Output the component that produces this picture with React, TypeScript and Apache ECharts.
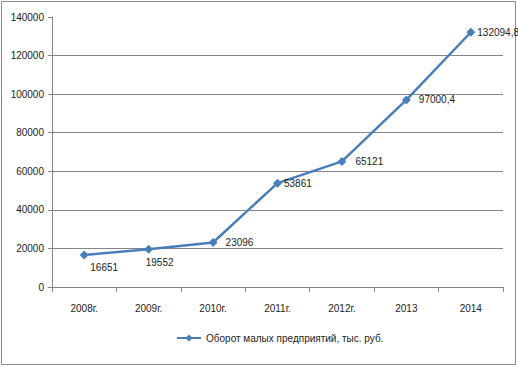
import React, { useEffect, useRef } from "react";
import * as echarts from "echarts";

const categories = ["2008г.", "2009г.", "2010г.", "2011г.", "2012г.", "2013", "2014"];
const values = [16651, 19552, 23096, 53861, 65121, 97000.4, 132094.8];
const labelTexts = ["16651", "19552", "23096", "53861", "65121", "97000,4", "132094,8"];
const seriesName = "Оборот малых предприятий, тыс. руб.";
const yTicks = { min: 0, max: 140000, interval: 20000 };

export default function App() {
  const ref = useRef<HTMLDivElement>(null);
  useEffect(() => {
    if (!ref.current) return;
    const chart = echarts.init(ref.current, null, { renderer: "svg" });
    const font = "Liberation Sans";
    const labelOverrides: any[] = [
      { position: "bottom", offset: [20, -2] },
      { position: "bottom", offset: [11, -1] },
      { position: "right", distance: 8 },
      { position: "right", distance: 2 },
      { position: "right", distance: 9 },
      { position: "right", distance: 8 },
      { position: "right", distance: 2 },
    ];
    const data = values.map((v, i) => ({
      value: v,
      label: { ...labelOverrides[i], formatter: labelTexts[i] },
    }));
    chart.setOption({
      animation: false,
      backgroundColor: "#fff",
      graphic: [
        {
          type: "rect",
          shape: { x: 1.5, y: 1.5, width: 514, height: 363 },
          style: { fill: "none", stroke: "#8a8a8a", lineWidth: 1 },
        },
      ],
      grid: { left: 52, right: 15, top: 17, bottom: 80 },
      legend: {
        left: 171,
        top: 328,
        itemWidth: 24,
        itemHeight: 9,
        textStyle: { fontFamily: font, fontSize: 10, color: "#222" },
        data: [seriesName],
      },
      xAxis: {
        type: "category",
        data: categories,
        boundaryGap: true,
        axisLine: { lineStyle: { color: "#868686", width: 1 } },
        axisTick: { show: true, length: 5, lineStyle: { color: "#868686" } },
        axisLabel: { fontFamily: font, fontSize: 10, color: "#222", margin: 16 },
      },
      yAxis: {
        type: "value",
        min: yTicks.min,
        max: yTicks.max,
        interval: yTicks.interval,
        axisLine: { show: true, lineStyle: { color: "#868686", width: 1 } },
        axisTick: { show: true, length: 4, lineStyle: { color: "#868686" } },
        axisLabel: {
          fontFamily: font,
          fontSize: 10,
          color: "#222",
          margin: 8,
          formatter: (v: number) => String(v),
        },
        splitLine: { show: true, showMinLine: false, showMaxLine: false, lineStyle: { color: "#868686", width: 1 } },
      },
      series: [
        {
          name: seriesName,
          type: "line",
          data,
          symbol: "diamond",
          symbolSize: 9,
          lineStyle: { color: "#4a7ebb", width: 2.5 },
          itemStyle: { color: "#4a7ebb" },
          label: {
            show: true,
            fontFamily: font,
            fontSize: 10,
            color: "#222",
          },
        },
      ],
    });
    return () => chart.dispose();
  }, []);
  return (
    <div
      ref={ref}
      style={{ position: "fixed", left: 0, top: 0, width: 518, height: 367 }}
    />
  );
}
